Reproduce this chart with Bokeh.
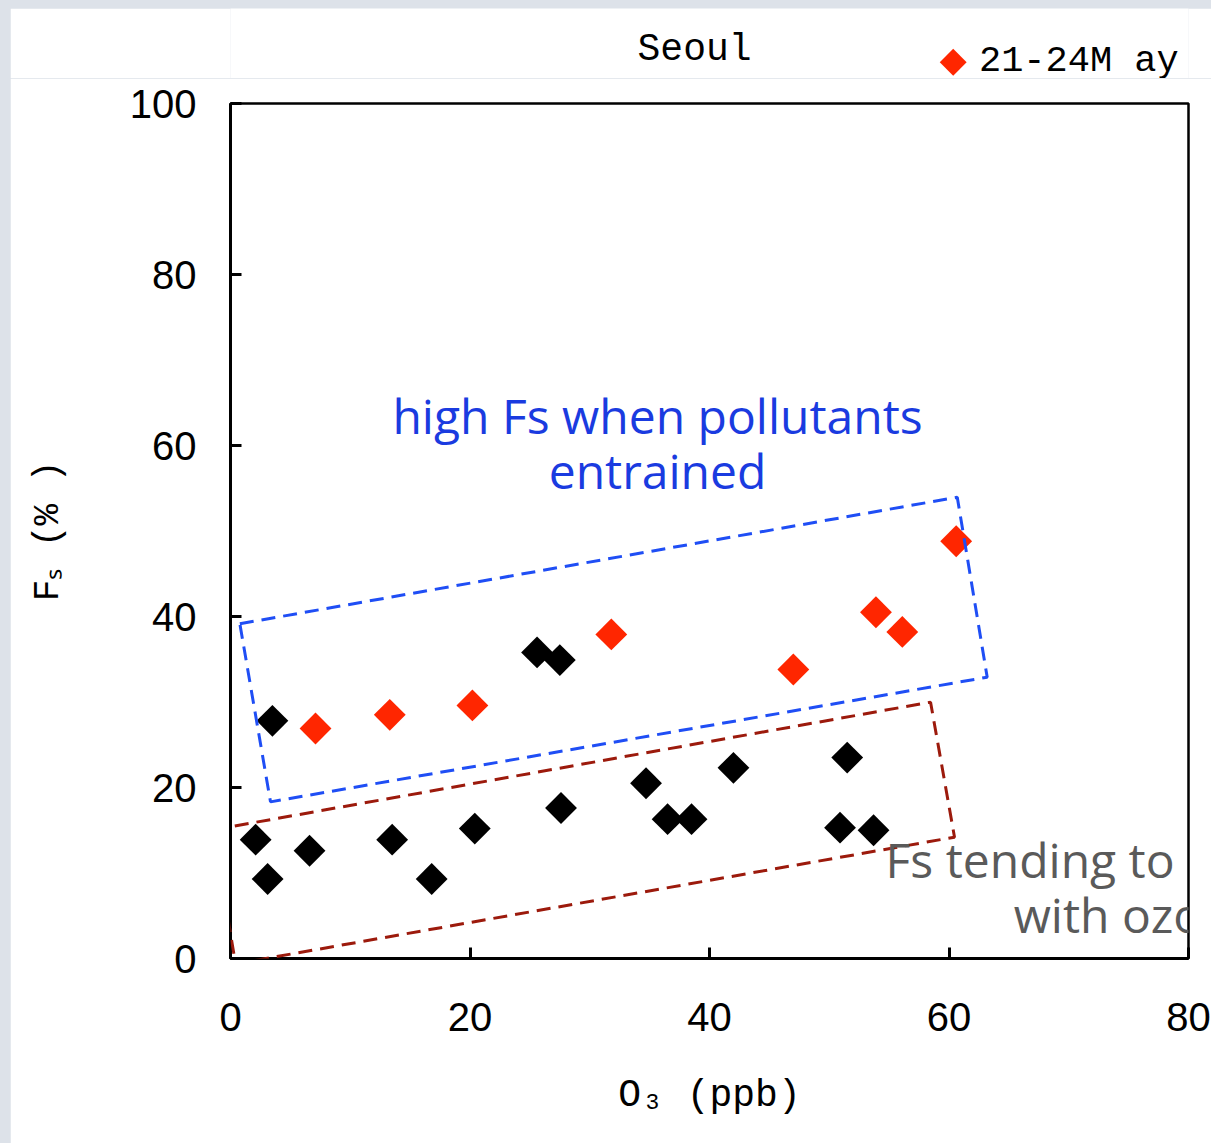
import math
from bokeh.plotting import figure
from bokeh.layouts import column
from bokeh.models import Label, PolyAnnotation, FixedTicker, Range1d
from bokeh.core.properties import value
from bokeh.embed import file_html
from bokeh.resources import INLINE

# ---- data ----
black_x = [2.1, 3.1, 3.5, 6.6, 13.5, 16.8, 20.4, 25.6, 27.5, 27.6, 34.7, 36.5, 38.5, 42.0, 50.9, 51.5, 53.7]
black_y = [13.9, 9.3, 27.8, 12.6, 13.9, 9.3, 15.2, 35.8, 34.9, 17.6, 20.5, 16.3, 16.3, 22.3, 15.3, 23.5, 15.0]
red_x = [7.1, 13.3, 20.2, 31.8, 47.0, 53.9, 56.1, 60.6]
red_y = [26.9, 28.5, 29.6, 37.9, 33.8, 40.5, 38.2, 48.8]

blue_box_x = [0.78, 60.69, 63.19, 3.34]
blue_box_y = [39.15, 53.95, 32.90, 18.32]
red_box_x = [-1.45, 58.46, 60.46, 0.42]
red_box_y = [15.05, 29.98, 14.19, -0.62]

x_ticks = [0, 20, 40, 60, 80]
y_ticks = [0, 20, 40, 60, 80, 100]

title_text = "Seoul"
legend_label = "21-24M ay"
x_label = "O\u2083 (ppb)"
y_label = "F\u209b (% )"
note_blue = ["high Fs when pollutants", "entrained"]
note_gray = ["Fs tending to increase", "with ozone"]

MONO = "Liberation Mono"
SANS = "Liberation Sans"
NOTE = "Open Sans"
RED = "#ff2600"

# pixel scale of the main frame (855 px for 100 units)
PX_Y = 855 / 100

# ---------------- main chart ----------------
p = figure(width=1201, height=1065, x_range=(0, 80), y_range=(0, 100),
           output_backend="svg", toolbar_location=None,
           min_border_left=220, min_border_right=23,
           min_border_top=25, min_border_bottom=185)
p.title_location = None
p.margin = (0, 0, 0, 10)
p.background_fill_color = "white"
p.border_fill_color = "white"
p.grid.visible = False
p.outline_line_color = "black"
p.outline_line_width = 2.5

for ax in (p.xaxis, p.yaxis):
    ax.axis_line_width = 3
    ax.axis_line_color = "black"
    ax.major_tick_in = 11
    ax.major_tick_out = 0
    ax.major_tick_line_width = 3
    ax.minor_tick_line_color = None
    ax.major_label_text_font = SANS
    ax.major_label_text_font_size = "40px"
    ax.major_label_text_color = "black"
    ax.axis_label_text_font = MONO
    ax.axis_label_text_font_style = "normal"
    ax.axis_label_text_color = "black"
p.xaxis.ticker = FixedTicker(ticks=x_ticks)
p.yaxis.ticker = FixedTicker(ticks=y_ticks)
p.xaxis.major_label_standoff = 44
p.yaxis.major_label_standoff = 34
p.xaxis.axis_label = x_label
p.xaxis.axis_label_text_font_size = "38px"
p.xaxis.axis_label_standoff = 40
p.yaxis.axis_label = y_label
p.yaxis.axis_label_text_font_size = "36px"
p.yaxis.axis_label_standoff = 58

sq = 22.5
p.scatter(black_x, black_y, marker="square", size=sq, angle=math.pi / 4,
          fill_color="black", line_color=None)
p.scatter(red_x, red_y, marker="square", size=sq, angle=math.pi / 4,
          fill_color=RED, line_color=None)

p.add_layout(PolyAnnotation(xs=blue_box_x, ys=blue_box_y, fill_alpha=0,
                            line_color="#1f4ef5", line_alpha=1, line_width=3,
                            line_dash="14 8"))
p.add_layout(PolyAnnotation(xs=red_box_x, ys=red_box_y, fill_alpha=0,
                            line_color="#9c1a0c", line_alpha=1, line_width=3,
                            line_dash="14 8"))

def lab(x, y, text, font, size, color="black", align="center"):
    p.add_layout(Label(x=x, y=y, text=text, text_font=font, text_font_size=size,
                       text_color=color, text_align=align, text_baseline="middle"))

lab(35.66, 63.5, note_blue[0], NOTE, "48px", color="#1a3be0")
lab(35.66, 57.1, note_blue[1], NOTE, "48px", color="#1a3be0")
lab(54.7, 11.6, note_gray[0], NOTE, "48px", color="#5a5a5a", align="left")
lab(65.4, 5.2, note_gray[1], NOTE, "48px", color="#5a5a5a", align="left")

# ---------------- header strip (title + legend), same x scale ----------------
top = figure(width=1201, height=70, output_backend="svg", toolbar_location=None,
             x_range=Range1d(0, 80),
             y_range=Range1d(100 + 25 / PX_Y, 100 + 95 / PX_Y),
             min_border_left=0, min_border_right=0,
             min_border_top=0, min_border_bottom=0)
top.title_location = None
top.margin = (8, 0, 0, 10)
top.xaxis.visible = False
top.yaxis.visible = False
top.grid.visible = False
top.outline_line_color = None
top.background_fill_color = "white"
top.border_fill_color = "white"

top.text(x=[38.75], y=[106.3], text=[title_text], text_font=value(MONO),
         text_font_size=value("38px"), text_color="black",
         text_align="center", text_baseline="middle")
top.scatter(x=[60.35], y=[104.83], marker="square", size=19, angle=math.pi / 4,
            fill_color=RED, line_color=None)
top.text(x=[62.5], y=[104.95], text=[legend_label], text_font=value(MONO),
         text_font_size=value("37px"), text_color="black",
         text_align="left", text_baseline="middle")

layout = column(top, p, spacing=0, styles={"background-color": "#dde2e9"})
open("out.html", "w").write(file_html(layout, INLINE))
